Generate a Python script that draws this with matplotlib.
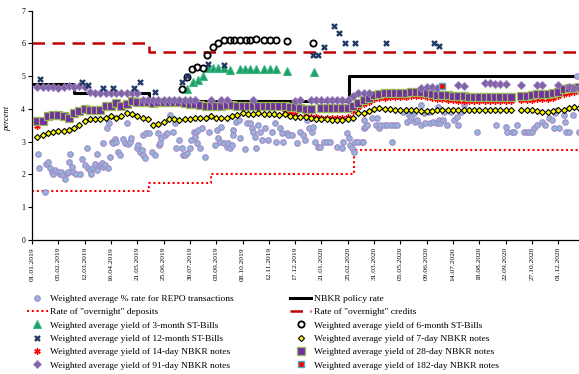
import numpy as np
import pandas as pd
import matplotlib
matplotlib.use('Agg')
import matplotlib.pyplot as plt

plt.rcParams['font.family'] = ['Liberation Serif', 'DejaVu Serif']

nan = np.nan
start = pd.Timestamp('2019-01-01')

# weekly auction results (one value per week, nan = no auction)
week_days = [7 + 7 * i for i in range(104)]

notes_7d = [3.13, 3.21, 3.26, 3.31, 3.33, 3.34, 3.37, 3.41, 3.51, 3.64,
            3.69, 3.69, 3.69, 3.74, 3.79, 3.74, 3.79, 3.87, 3.85, 3.79,
            3.74, 3.69, 3.51, 3.54, 3.59, 3.69, 3.69, 3.66, 3.69, 3.69,
            3.73, 3.73, 3.73, 3.78, 3.73, 3.74, 3.74, 3.79, 3.83, 3.88,
            3.86, 3.86, 3.88, 3.85, 3.84, 3.84, 3.82, 3.84, 3.79, 3.77,
            3.77, 3.75, 3.72, 3.70, 3.70, 3.68, 3.67, 3.66, 3.66, 3.70,
            3.74, 3.87, 3.89, 3.95, 3.99, 4.02, 3.99, 3.99, 3.97, 3.97,
            3.97, 3.96, 3.96, 3.95, 3.95, 3.95, 3.96, 3.96, 3.97, 3.97,
            3.97, 3.97, 3.96, 3.96, 3.97, 3.97, 3.97, 3.97, 3.97, 3.97,
            3.97, nan, 3.97, 3.96, 3.96, 3.95, 3.92, 3.92, 3.94, 3.96,
            3.98, 4.02, 4.05, 4.03]

notes_28d = [3.64, 3.64, 3.78, 3.81, 3.81, 3.78, 3.71, 3.87, 3.95, 3.99,
             3.97, 3.97, 3.97, 4.09, 4.09, 4.19, 4.09, 4.15, 4.24, 4.22,
             4.20, 4.20, 4.18, 4.20, 4.20, 4.20, 4.20, 4.20, 4.18, 4.15,
             4.15, 4.12, 4.10, 4.10, 4.10, 4.10, 4.12, 4.12, 4.10, 4.10,
             4.10, 4.10, 4.10, 4.10, 4.10, 4.08, 4.08, 4.08, 4.05, 4.05,
             4.03, 4.00, 3.99, nan, 4.02, 4.02, 4.02, 4.02, 4.02, 4.03,
             4.09, 4.17, 4.27, 4.33, 4.43, 4.46, 4.48, 4.48, 4.48, 4.48,
             4.50, 4.53, 4.53, 4.53, 4.50, 4.45, 4.43, 4.43, 4.42, 4.40,
             4.40, 4.40, 4.38, 4.38, 4.38, 4.38, 4.38, 4.38, 4.38, 4.38,
             4.38, nan, 4.40, 4.40, 4.42, 4.45, 4.45, 4.45, 4.48, 4.53,
             4.60, 4.63, 4.65, 4.68]

notes_91d = [4.68, 4.67, 4.66, 4.68, 4.65, 4.68, 4.70, 4.68, 4.70, 4.68,
             4.52, 4.50, 4.50, 4.50, 4.48, 4.48, 4.50, 4.50, 4.50, 4.50,
             4.27, 4.27, 4.26, 4.27, 4.27, 4.27, 4.28, 4.27, 4.27, 4.26,
             4.27, nan, nan, 4.27, nan, 4.27, 4.27, nan, nan, nan,
             nan, 4.27, nan, nan, nan, nan, nan, nan, nan, 4.25,
             4.27, nan, 4.27, 4.27, 4.27, 4.27, 4.27, 4.27, 4.27, 4.27,
             4.40, 4.48, 4.50, 4.50, nan, nan, nan, nan, nan, nan,
             nan, nan, nan, 4.65, 4.68, 4.68, 4.65, nan, nan, nan,
             4.72, 4.70, nan, nan, nan, 4.78, 4.78, 4.77, 4.76, 4.75,
             nan, nan, 4.73, nan, nan, 4.73, 4.73, nan, nan, 4.73,
             nan, 4.68, 4.65, 4.63]

notes_14d = [3.47] + [nan] * 46 + [
             3.92, 3.90, 3.86,
             nan, 3.80, 3.76, 3.76, 3.74, 3.74, 3.72, 3.72, 3.72, 3.76,
             3.95, 4.05, 4.15, 4.22, 4.30, 4.33, 4.35, 4.36, 4.36, 4.36,
             4.38, 4.40, 4.40, 4.40, 4.38, 4.33, 4.30, 4.30, 4.28, 4.27,
             4.25, 4.25, 4.25, 4.25, 4.25, 4.25, 4.25, 4.25, 4.25, 4.25,
             4.25, nan, 4.26, 4.27, 4.28, 4.30, 4.30, 4.32, 4.35, 4.40,
             4.47, 4.50, 4.52, 4.55]

notes_182d = [nan] * 77 + [4.70] + [nan] * 26

# ST-Bills (day number since 01.01.2019, yield)
bills_3m_days = [206, 214, 221, 227, 234, 241, 248, 256, 263, 276, 283, 290,
                 298, 309, 317, 325, 339, 375]
bills_3m = [4.60, 4.82, 4.87, 5.02, 5.24, 5.26, 5.26, 5.24, 5.20, 5.21, 5.21,
            5.21, 5.21, 5.21, 5.21, 5.21, 5.17, 5.12]

bills_6m_days = [199, 206, 213, 219, 227, 233, 241, 248, 255, 263, 269, 277,
                 284, 290, 298, 309, 317, 325, 339, 374]
bills_6m = [4.60, 4.97, 5.21, 5.29, 5.26, 5.65, 5.88, 6.00, 6.10, 6.12, 6.12,
            6.12, 6.12, 6.12, 6.14, 6.10, 6.12, 6.12, 6.08, 6.03]

bills_12m_days = [11, 66, 74, 94, 108, 136, 143, 164, 199, 206, 234, 256,
                  374, 381, 388, 402, 409, 416, 430, 471, 535, 542]
bills_12m = [4.91, 4.83, 4.73, 4.65, 4.65, 4.65, 4.81, 4.53, 4.83, 5.00,
             5.37, 5.34, 5.65, 5.65, 5.90, 6.53, 6.33, 6.02, 6.02, 6.02,
             6.02, 5.92]

# REPO deals (day number, weighted average rate)
repo_days = [8, 9, 17, 18, 21, 24, 26, 28, 30, 35, 37, 39, 41, 44, 46, 48,
             49, 50, 53, 55, 59, 64, 66, 70, 73, 75, 77, 79, 81, 84, 86, 87,
             90, 93, 94, 95, 97, 100, 101, 102, 104, 106, 108, 110, 112, 115,
             117, 121, 124, 126, 128, 130, 132, 139, 141, 144, 146, 147, 148,
             150, 152, 155, 159, 164, 168, 169, 170, 172, 177, 179, 184, 188,
             190, 192, 195, 199, 201, 203, 206, 210, 212, 215, 217, 218, 219,
             221, 223, 226, 230, 235, 243, 246, 248, 250, 252, 255, 259, 261,
             263, 266, 267, 268, 272, 275, 277, 283, 286, 290, 292, 294, 297,
             298, 301, 303, 306, 310, 314, 319, 323, 324, 330, 332, 334, 339,
             341, 346, 352, 357, 361, 363, 366, 368, 372, 374, 377, 381, 383,
             388, 392, 397, 406, 412, 414, 419, 421, 423, 426, 428, 430, 434,
             439, 440, 441, 442, 443, 446, 452, 457, 459, 461, 463, 468, 472,
             477, 479, 481, 486, 494, 499, 501, 503, 504, 508, 510, 512, 517,
             517, 521, 523, 528, 530, 534, 539, 540, 541, 543, 547, 548, 552,
             557, 561, 565, 566, 570, 574, 592, 617, 630, 632, 639, 641, 645,
             654, 659, 661, 665, 668, 672, 679, 683, 688, 692, 694, 696, 699,
             701, 708, 709, 710, 714, 719, 725, 727]
repo_rate = [2.62, 2.21, 1.47, 2.32, 2.39, 2.19, 2.09, 2.01, 2.14, 2.09, 2.01,
             2.09, 1.98, 1.86, 2.04, 2.09, 2.37, 2.62, 2.24, 2.09, 2.01, 2.01,
             2.46, 2.29, 2.80, 2.19, 2.14, 2.01, 2.19, 2.32, 2.14, 2.62, 2.29,
             2.36, 2.95, 2.24, 2.29, 3.41, 2.19, 3.58, 2.52, 3.00, 2.95, 3.07,
             3.00, 2.70, 2.59, 3.07, 2.97, 3.58, 2.93, 3.00, 3.10, 2.80, 2.90,
             2.70, 2.75, 3.21, 2.59, 2.49, 3.26, 3.26, 2.70, 2.59, 3.26, 2.90,
             2.97, 3.10, 3.21, 3.26, 3.82, 3.31, 3.58, 2.80, 3.05, 2.80, 2.59,
             2.59, 2.65, 2.80, 3.05, 3.31, 3.15, 3.31, 2.95, 3.36, 2.80, 3.41,
             2.54, 3.31, 2.90, 3.36, 3.10, 3.00, 3.44, 2.95, 2.85, 2.95, 2.80,
             2.90, 3.36, 3.21, 3.61, 3.66, 3.10, 2.78, 3.56, 3.56, 3.41, 3.31,
             3.15, 2.80, 3.51, 3.31, 3.05, 3.41, 3.05, 3.31, 3.56, 3.00, 3.41,
             3.26, 3.00, 3.26, 3.21, 3.21, 2.95, 3.31, 3.21, 3.05, 3.66, 3.41,
             3.31, 3.46, 3.00, 2.85, 2.85, 3.00, 3.00, 3.00, 2.85, 2.80, 3.00,
             3.26, 3.10, 2.90, 2.80, 2.70, 3.00, 3.00, 3.00, 3.00, 3.41, 3.66,
             3.46, 3.51, 3.71, 3.51, 3.71, 3.41, 3.51, 3.51, 3.51, 3.51, 3.00,
             3.51, 3.51, 3.92, 3.61, 3.82, 3.66, 3.76, 3.87, 3.61, 3.66, 3.51,
             4.12, 3.87, 3.56, 3.92, 3.56, 3.61, 3.56, 4.05, 3.66, 3.56, 3.66,
             3.92, 3.51, 3.92, 3.66, 3.76, 3.51, 3.92, 4.12, 3.31, 3.51, 3.46,
             3.31, 3.31, 3.31, 3.51, 3.31, 3.31, 3.31, 3.31, 3.41, 3.51, 3.61,
             3.51, 3.71, 3.66, 3.41, 3.87, 3.97, 3.41, 3.82, 3.61, 3.31, 3.31,
             3.82, 5.00, 3.31]

# corridor: (day of change, new level)
policy_days = [0, 56, 156, 421, 727]
policy_rate = [4.75, 4.50, 4.25, 5.00, 5.00]
deposit_days = [0, 155, 238, 428, 727]
deposit_rate = [1.50, 1.75, 2.00, 2.75, 2.75]
credit_days = [0, 155, 727]
credit_rate = [6.00, 5.75, 5.75]

tick_dates = pd.date_range('2019-01-01', '2020-12-01', freq='35D')
tick_days = [(d - start).days for d in tick_dates]
tick_labels = [d.strftime('%d.%m.%Y') for d in tick_dates]

labels = ['Weighted average % rate for REPO transactions',
          'Rate of "overnight" deposits',
          'Weighted average yield of 3-month ST-Bills',
          'Weighted average yield of 12-month ST-Bills',
          'Weighted average yield of 14-day NBKR notes',
          'Weighted average yield of 91-day NBKR notes',
          'NBKR policy rate',
          'Rate of "overnight" credits',
          'Weighted average yield of 6-month ST-Bills',
          'Weighted average yield of 7-day NBKR notes',
          'Weighted average yield of 28-day NBKR notes',
          'Weighted average yield of 182-day NBKR notes']

fig = plt.figure(figsize=(5.79, 3.74), dpi=100)
ax = fig.add_axes([0.0553, 0.3583, 0.9439, 0.613])

h_policy, = ax.step(policy_days, policy_rate, where='post', color='black',
                    lw=2.2, zorder=2)
h_dep, = ax.step(deposit_days, deposit_rate, where='post', color='#FF0000',
                 lw=1.5, ls=(0, (1, 1.3)), zorder=2)
h_cred, = ax.step(credit_days, credit_rate, where='post', color='#C00000',
                  lw=1.8, ls=(0, (5, 3)), zorder=2)

h_repo, = ax.plot(repo_days, repo_rate, 'o', ms=4.0, mfc='#93B6D9',
                  mec='#A38AC9', mew=0.8, zorder=3)
h_14, = ax.plot(week_days, notes_14d, ls='none', marker=(6, 2, 0), ms=4.6,
                color='#FF0000', mew=1.0, zorder=4)
h_28, = ax.plot(week_days, notes_28d, 's', ms=5.4, mfc='#7030A0',
                mec='#9BBB59', mew=0.9, zorder=5)
h_91, = ax.plot(week_days, notes_91d, 'D', ms=3.9, mfc='#8064A2',
                mec='#9A7EC4', mew=0.6, zorder=5)
h_7, = ax.plot(week_days, notes_7d, 'D', ms=3.1, mfc='#FFFF00',
               mec='black', mew=0.8, zorder=6)
h_182, = ax.plot(week_days, notes_182d, 's', ms=4.6, mfc='#FF0000',
                 mec='#4BACC6', mew=1.0, zorder=6)
h_3m, = ax.plot(bills_3m_days, bills_3m, '^', ms=5.2, mfc='#1E9E6A',
                mec='#3CB982', mew=0.8, zorder=6)
h_6m, = ax.plot(bills_6m_days, bills_6m, 'o', ms=4.5, mfc='none',
                mec='black', mew=1.3, zorder=6)
h_12m, = ax.plot(bills_12m_days, bills_12m, 'x', ms=3.6, color='#1F3864',
                 mew=1.7, zorder=6)

ax.set_xlim(0, 727)
ax.set_ylim(0, 7)
ax.set_yticks(range(8))
ax.set_xticks(tick_days)
ax.set_xticklabels(tick_labels, rotation=90, fontsize=5.4)
ax.tick_params(axis='y', labelsize=5.6, length=3, width=0.8, pad=2)
ax.tick_params(axis='x', length=3, width=0.8, pad=2)
for s in ['top', 'right']:
    ax.spines[s].set_visible(False)
for s in ['left', 'bottom']:
    ax.spines[s].set_linewidth(0.9)
ax.set_ylabel('percent', fontsize=6, style='italic')
ax.yaxis.set_label_coords(-0.037, 0.53)

handles = [h_repo, h_dep, h_3m, h_12m, h_14, h_91,
           h_policy, h_cred, h_6m, h_7, h_28, h_182]
leg_kw = dict(loc='upper left', frameon=False, fontsize=6.8, borderpad=0,
              borderaxespad=0, labelspacing=0.5, handlelength=2.25,
              handletextpad=0.25)
fig.legend(handles[:6], labels[:6], bbox_to_anchor=(0.046, 0.213), **leg_kw)
fig.legend(handles[6:], labels[6:], bbox_to_anchor=(0.501, 0.213), **leg_kw)

fig.savefig('out.png', dpi=100)
